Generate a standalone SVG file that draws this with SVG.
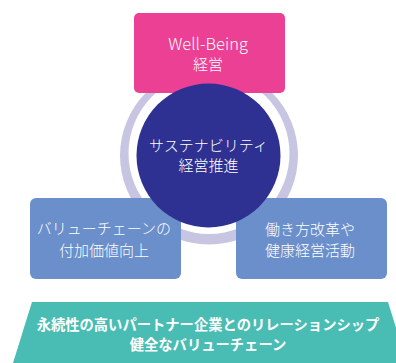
<svg xmlns="http://www.w3.org/2000/svg" width="396" height="363" viewBox="0 0 396 363">
<style>
.t{font-family:"Noto Sans CJK JP","Noto Sans",sans-serif;fill:#ffffff;text-anchor:middle;font-weight:300;font-size:15px}
.b{font-family:"Noto Sans CJK JP","Noto Sans",sans-serif;fill:#ffffff;text-anchor:middle;font-weight:700;font-size:14.3px}
.box{fill:#6A8FCA}
</style>
<rect width="396" height="363" fill="#ffffff"/>
<g id="ring">
<circle cx="209" cy="155.5" r="89" fill="#C8C5E2"/>
<circle cx="209" cy="153.5" r="80.5" fill="#ffffff"/>
</g>
<g id="connectors"></g>
<g id="wellbeing">
<rect x="134" y="13" width="151" height="80" rx="5" fill="#EC4094"/>
<text class="t" x="208" y="49.5" style="font-size:16.5px">Well-Being</text>
<text class="t" x="208" y="70">経営</text>
</g>
<g id="valuechain">
<rect class="box" x="30" y="198" width="151" height="81" rx="6"/>
<text class="t" x="104" y="234">バリューチェーンの</text>
<text class="t" x="104" y="255.5">付加価値向上</text>
</g>
<g id="workstyle">
<rect class="box" x="236" y="198" width="151" height="81" rx="6"/>
<text class="t" x="310" y="234.5">働き方改革や</text>
<text class="t" x="310" y="255.5">健康経営活動</text>
</g>
<g id="sustainability">
<circle cx="208.5" cy="155.5" r="72" fill="#2E3192"/>
<text class="t" x="208.5" y="151">サステナビリティ</text>
<text class="t" x="208.5" y="170.7">経営推進</text>
</g>
<g id="foundation">
<polygon points="32,302 388,302 407,363 13,363" fill="#49BDB4"/>
<text class="b" x="208" y="329.8">永続性の高いパートナー企業とのリレーションシップ</text>
<text class="b" x="208" y="349.7">健全なバリューチェーン</text>
</g>
</svg>
